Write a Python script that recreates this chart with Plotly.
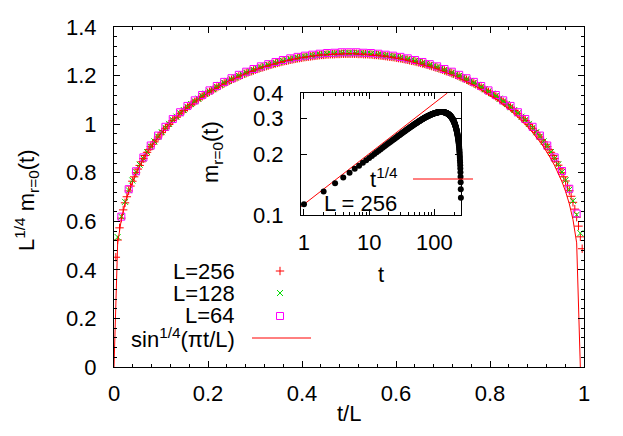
import math
import plotly.graph_objects as go

# ---------------- data ----------------
L_values = [256, 128, 64]

# L^{1/4} m_{r=0}(t) for t = 1 .. L-1
t_256 = list(range(1, 256))
y_256 = [0.452, 0.523, 0.573, 0.613, 0.647, 0.676, 0.701, 0.725, 0.745, 0.765,
         0.783, 0.800, 0.815, 0.830, 0.845, 0.858, 0.871, 0.884, 0.895, 0.907,
         0.917, 0.927, 0.937, 0.947, 0.956, 0.965, 0.974, 0.983, 0.991, 0.999,
         1.007, 1.015, 1.022, 1.029, 1.036, 1.043, 1.050, 1.056, 1.063, 1.069,
         1.075, 1.081, 1.087, 1.092, 1.098, 1.103, 1.109, 1.114, 1.119, 1.124,
         1.129, 1.133, 1.138, 1.142, 1.147, 1.151, 1.156, 1.160, 1.164, 1.168,
         1.172, 1.176, 1.179, 1.183, 1.187, 1.190, 1.193, 1.197, 1.200, 1.203,
         1.207, 1.210, 1.213, 1.216, 1.218, 1.221, 1.224, 1.227, 1.229, 1.232,
         1.234, 1.237, 1.239, 1.241, 1.244, 1.246, 1.248, 1.250, 1.252, 1.254,
         1.256, 1.258, 1.260, 1.261, 1.263, 1.265, 1.266, 1.268, 1.269, 1.271,
         1.272, 1.273, 1.275, 1.276, 1.277, 1.278, 1.279, 1.280, 1.281, 1.282,
         1.283, 1.284, 1.285, 1.285, 1.286, 1.287, 1.287, 1.288, 1.288, 1.288,
         1.289, 1.289, 1.289, 1.290, 1.290, 1.290, 1.290, 1.290,
         1.290, 1.290, 1.290, 1.290, 1.289, 1.289, 1.289, 1.288, 1.288, 1.288,
         1.287, 1.287, 1.286, 1.285, 1.285, 1.284, 1.283, 1.282, 1.281, 1.280,
         1.279, 1.278, 1.277, 1.276, 1.275, 1.273, 1.272, 1.271, 1.269, 1.268,
         1.266, 1.265, 1.263, 1.261, 1.260, 1.258, 1.256, 1.254, 1.252, 1.250,
         1.248, 1.246, 1.244, 1.241, 1.239, 1.237, 1.234, 1.232, 1.229, 1.227,
         1.224, 1.221, 1.218, 1.216, 1.213, 1.210, 1.207, 1.203, 1.200, 1.197,
         1.193, 1.190, 1.187, 1.183, 1.179, 1.176, 1.172, 1.168, 1.164, 1.160,
         1.156, 1.151, 1.147, 1.142, 1.138, 1.133, 1.129, 1.124, 1.119, 1.114,
         1.109, 1.103, 1.098, 1.092, 1.087, 1.081, 1.075, 1.069, 1.063, 1.056,
         1.050, 1.043, 1.036, 1.029, 1.022, 1.015, 1.007, 0.999, 0.991, 0.983,
         0.974, 0.965, 0.956, 0.947, 0.937, 0.927, 0.917, 0.907, 0.895, 0.884,
         0.871, 0.858, 0.845, 0.831, 0.816, 0.800, 0.783, 0.766, 0.746, 0.726,
         0.703, 0.678, 0.650, 0.617, 0.580, 0.536, 0.487]

t_128 = list(range(1, 128))
y_128 = [0.535, 0.619, 0.680, 0.728, 0.768, 0.802, 0.833, 0.859, 0.885, 0.908,
         0.929, 0.949, 0.967, 0.985, 1.001, 1.017, 1.031, 1.045, 1.058, 1.071,
         1.083, 1.094, 1.105, 1.116, 1.126, 1.135, 1.144, 1.153, 1.162, 1.170,
         1.178, 1.185, 1.192, 1.199, 1.205, 1.212, 1.218, 1.223, 1.229, 1.234,
         1.239, 1.243, 1.248, 1.252, 1.256, 1.260, 1.263, 1.267, 1.270, 1.273,
         1.275, 1.278, 1.280, 1.282, 1.284, 1.286, 1.287, 1.289, 1.290, 1.290,
         1.291, 1.292, 1.292, 1.292,
         1.292, 1.292, 1.291, 1.290, 1.290, 1.289, 1.287, 1.286, 1.284, 1.282,
         1.280, 1.278, 1.275, 1.273, 1.270, 1.267, 1.263, 1.260, 1.256, 1.252,
         1.248, 1.243, 1.239, 1.234, 1.229, 1.223, 1.218, 1.212, 1.205, 1.199,
         1.192, 1.185, 1.178, 1.170, 1.162, 1.153, 1.144, 1.135, 1.126, 1.116,
         1.105, 1.094, 1.083, 1.071, 1.058, 1.045, 1.031, 1.017, 1.001, 0.985,
         0.967, 0.949, 0.929, 0.908, 0.885, 0.859, 0.834, 0.803, 0.769, 0.730,
         0.684, 0.627, 0.551]

t_64 = list(range(1, 64))
y_64 = [0.619, 0.732, 0.806, 0.863, 0.912, 0.953, 0.989, 1.021, 1.049, 1.075,
        1.098, 1.120, 1.139, 1.157, 1.174, 1.189, 1.203, 1.216, 1.227, 1.238,
        1.247, 1.256, 1.264, 1.271, 1.277, 1.282, 1.286, 1.290, 1.293, 1.294,
        1.296, 1.296, 1.296, 1.294, 1.293, 1.290, 1.286, 1.282, 1.277, 1.271,
        1.264, 1.256, 1.247, 1.238, 1.227, 1.216, 1.203, 1.189, 1.174, 1.157,
        1.139, 1.120, 1.098, 1.075, 1.049, 1.021, 0.989, 0.953, 0.912, 0.863,
        0.807, 0.734, 0.632]

# sin^{1/4}(pi t/L) curve, read at t/L = i/128
fit_i = list(range(0, 129))
fit_y = [0.0, 0.511, 0.607, 0.672, 0.722, 0.763, 0.798, 0.829, 0.857, 0.883,
         0.906, 0.927, 0.947, 0.965, 0.983, 0.999, 1.015, 1.029, 1.043, 1.056,
         1.069, 1.081, 1.092, 1.103, 1.114, 1.124, 1.133, 1.142, 1.151, 1.160,
         1.168, 1.176, 1.183, 1.190, 1.197, 1.203, 1.210, 1.216, 1.221, 1.227,
         1.232, 1.237, 1.241, 1.246, 1.250, 1.254, 1.258, 1.261, 1.265, 1.268,
         1.271, 1.273, 1.276, 1.278, 1.280, 1.282, 1.284, 1.285, 1.287, 1.288,
         1.288, 1.289, 1.290, 1.290, 1.290,
         1.290, 1.289, 1.288, 1.288, 1.287, 1.285, 1.284, 1.282, 1.280, 1.278,
         1.276, 1.273, 1.271, 1.268, 1.265, 1.261, 1.258, 1.254, 1.250, 1.246,
         1.241, 1.237, 1.232, 1.227, 1.221, 1.216, 1.210, 1.203, 1.197, 1.190,
         1.183, 1.176, 1.168, 1.160, 1.151, 1.142, 1.133, 1.124, 1.114, 1.103,
         1.092, 1.081, 1.069, 1.056, 1.043, 1.029, 1.015, 0.999, 0.983, 0.965,
         0.947, 0.927, 0.906, 0.883, 0.857, 0.829, 0.798, 0.763, 0.722, 0.672,
         0.607, 0.511, 0.0]

# inset: t^{1/4} guide line (end points)
inset_fit_t = [0.9, 158]
inset_fit_m = [0.110, 0.400]

x_ticks = [0, 0.2, 0.4, 0.6, 0.8, 1]
y_ticks = [0, 0.2, 0.4, 0.6, 0.8, 1, 1.2, 1.4]
inset_x_ticks = [1, 10, 100]
inset_x_labels = ["1", "10", "100"]
inset_x_minor = [2, 3, 4, 5, 6, 7, 8, 9, 20, 30, 40, 50, 60, 70, 80, 90, 200]
inset_y_ticks = [0.1, 0.2, 0.3, 0.4]
inset_y_labels = ["0.1", "0.2", "0.3", "0.4"]

# ---------------- layout helpers ----------------
# the page body has an 8 px margin, so the figure is drawn 8 px in from the window
OFF = 8
W, H = 623 - 2 * OFF, 436 - 2 * OFF
# plot area in window pixels: x 114..584, y 27..367
ML, MR, MT, MB = 114 - OFF, W - (584 - OFF), 27 - OFF, H - (367 - OFF)
PW, PH = W - ML - MR, H - MT - MB


def px(x):
    """window pixel x -> paper fraction"""
    return (x - OFF - ML) / PW


def py(y):
    """window pixel y -> paper fraction"""
    return (H - MB - (y - OFF)) / PH


FONT = "Liberation Sans, Arial, Helvetica, sans-serif"
FS = 22
RED = "#ff0000"
GREEN = "#00dd00"
MAG = "#ff00ff"

fig = go.Figure()

fig.add_trace(go.Scatter(
    x=[t / L_values[0] for t in t_256], y=y_256, mode="markers", name="L=256",
    marker=dict(symbol="cross-thin", size=6, color=RED, line=dict(color=RED, width=1)),
    showlegend=False))
fig.add_trace(go.Scatter(
    x=[t / L_values[1] for t in t_128], y=y_128, mode="markers", name="L=128",
    marker=dict(symbol="x-thin", size=6, color=GREEN, line=dict(color=GREEN, width=1)),
    showlegend=False))
fig.add_trace(go.Scatter(
    x=[t / L_values[2] for t in t_64], y=y_64, mode="markers", name="L=64",
    marker=dict(symbol="square-open", size=7, color=MAG, line=dict(color=MAG, width=1)),
    showlegend=False))
fig.add_trace(go.Scatter(
    x=[i / 128 for i in fit_i], y=fit_y, mode="lines", name="sin^1/4",
    line=dict(color=RED, width=1), showlegend=False))

# inset
fig.add_trace(go.Scatter(
    x=inset_fit_t, y=inset_fit_m, mode="lines", xaxis="x2", yaxis="y2",
    line=dict(color=RED, width=1), showlegend=False))
fig.add_trace(go.Scatter(
    x=t_256, y=[v / L_values[0] ** 0.25 for v in y_256], mode="markers",
    xaxis="x2", yaxis="y2",
    marker=dict(symbol="circle", size=6, color="black"), cliponaxis=False,
    showlegend=False))

# key samples (layout positions, on an invisible overlay axis)
key_x = [px(280), px(280), px(280), px(443)]
key_y = [py(271), py(293), py(316), py(202)]
fig.add_trace(go.Scatter(x=[key_x[0]], y=[key_y[0]], mode="markers", xaxis="x3", yaxis="y3",
                         marker=dict(symbol="cross-thin", size=6, line=dict(color=RED, width=1)),
                         showlegend=False))
fig.add_trace(go.Scatter(x=[key_x[1]], y=[key_y[1]], mode="markers", xaxis="x3", yaxis="y3",
                         marker=dict(symbol="x-thin", size=6, line=dict(color=GREEN, width=1)),
                         showlegend=False))
fig.add_trace(go.Scatter(x=[key_x[2]], y=[key_y[2]], mode="markers", xaxis="x3", yaxis="y3",
                         marker=dict(symbol="square-open", size=7, color=MAG, line=dict(width=1)),
                         showlegend=False))
fig.add_trace(go.Scatter(x=[key_x[3]], y=[key_y[3]], mode="markers", xaxis="x3", yaxis="y3",
                         marker=dict(symbol="circle", size=6, color="black"),
                         showlegend=False))

axis_common = dict(showline=True, linecolor="black", linewidth=1, mirror="allticks",
                   ticks="inside", ticklen=6, tickwidth=1, tickcolor="black",
                   showgrid=False, zeroline=False, automargin=False,
                   tickfont=dict(family=FONT, size=FS, color="black"))

ix0, ix1 = px(301), px(461)
iy0, iy1 = py(215), py(93)

fig.update_layout(
    width=W, height=H,
    margin=dict(l=ML, r=MR, t=MT, b=MB, pad=0),
    paper_bgcolor="white", plot_bgcolor="white",
    font=dict(family=FONT, size=FS, color="black"),
    xaxis=dict(domain=[0, 1], range=[0, 1], tickvals=x_ticks,
               ticktext=[f"{v:g}" for v in x_ticks], ticklabelstandoff=7,
               minor=dict(dtick=0.04, ticks="inside", ticklen=3, tickcolor="black"),
               **axis_common),
    yaxis=dict(domain=[0, 1], range=[0, 1.4], tickvals=y_ticks,
               ticktext=[f"{v:g}" for v in y_ticks], ticklabelstandoff=12,
               minor=dict(dtick=0.04, ticks="inside", ticklen=3, tickcolor="black"),
               **axis_common),
    xaxis2=dict(type="log", domain=[ix0, ix1], anchor="y2",
                range=[math.log10(0.9), math.log10(256)],
                tickvals=inset_x_ticks, ticktext=inset_x_labels, ticklabelstandoff=8,
                minor=dict(tickvals=inset_x_minor, ticks="inside", ticklen=3, tickcolor="black"),
                **axis_common),
    yaxis2=dict(type="log", domain=[iy0, iy1], anchor="x2",
                range=[-1, math.log10(0.4)],
                tickvals=inset_y_ticks, ticktext=inset_y_labels, ticklabelstandoff=12,
                **axis_common),
    xaxis3=dict(domain=[0, 1], range=[0, 1], anchor="y3", overlaying="x", visible=False),
    yaxis3=dict(domain=[0, 1], range=[0, 1], anchor="x3", overlaying="y", visible=False),
)


def note(text, x, y, xanchor="center", yanchor="middle", angle=0):
    fig.add_annotation(text=text, x=px(x), y=py(y), xref="paper", yref="paper",
                       xanchor=xanchor, yanchor=yanchor, textangle=angle,
                       showarrow=False, font=dict(family=FONT, size=FS, color="black"))


note("L<sup>1/4</sup> m<sub>r=0</sub>(t)", 26, 200, angle=-90)
note("t/L", 349, 413)
note("L=256", 237, 271, xanchor="right")
note("L=128", 237, 293, xanchor="right")
note("L=64", 237, 315, xanchor="right")
note("sin<sup>1/4</sup>(πt/L)", 237, 338, xanchor="right")
note("m<sub>r=0</sub>(t)", 212, 152, angle=-90)
note("t", 381, 274)
note("t<sup>1/4</sup>", 400, 178, xanchor="right")
note("L = 256", 399, 204, xanchor="right")

fig.add_shape(type="line", xref="paper", yref="paper", x0=px(252), x1=px(311),
              y0=py(338), y1=py(338), line=dict(color=RED, width=1))
fig.add_shape(type="line", xref="paper", yref="paper", x0=px(413), x1=px(473),
              y0=py(179), y1=py(179), line=dict(color=RED, width=1))

fig.write_html("out.html")
